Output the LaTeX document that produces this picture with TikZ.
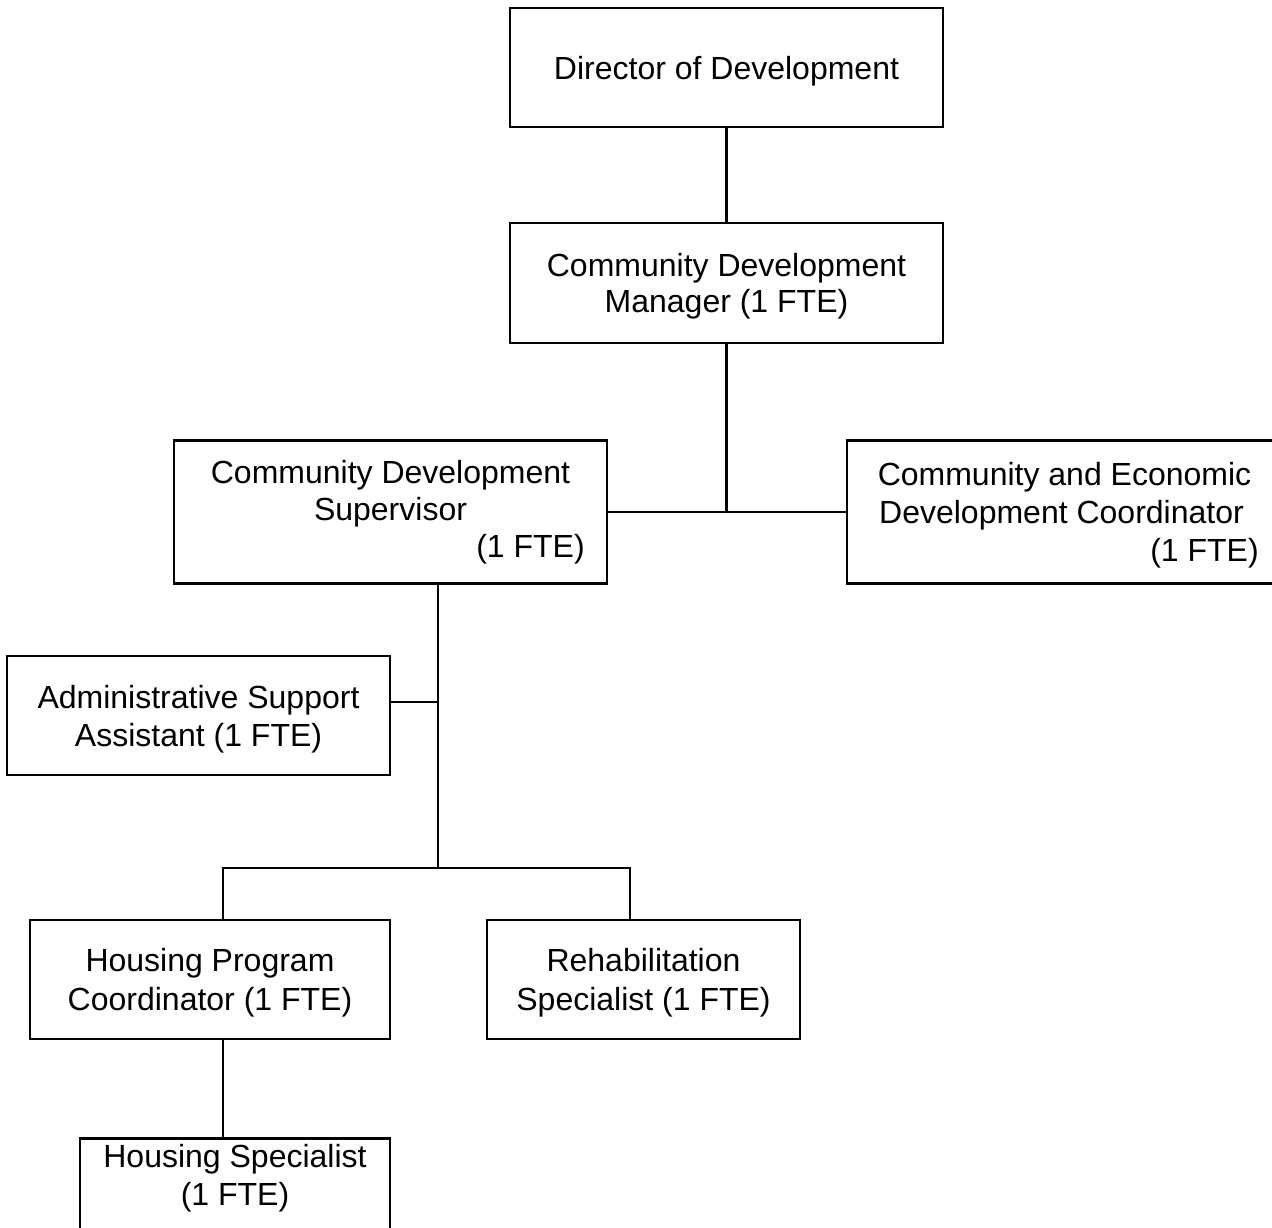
\documentclass[tikz,border=0pt]{standalone}
\usepackage{fontspec}
\setmainfont{Liberation Sans}
\begin{document}
\begin{tikzpicture}[x=0.5pt,y=-0.5pt,
  box/.style={draw=black,line width=1.4pt,rectangle,inner sep=0pt,align=center,
    text depth=0pt,font=\fontsize{16}{18}\selectfont},
  conn/.style={draw=black,line width=1.1pt}]
\useasboundingbox (0,0) rectangle (1272,1227);
\node[box,minimum width=216.5pt,minimum height=59.5pt] (dir) at (726.5,67.5) {Director of Development};
\node[box,minimum width=216.5pt,minimum height=60pt] (mgr) at (726.5,283) {Community Development\\Manager (1 FTE)};
\node[box,text depth=,minimum width=216.5pt,minimum height=71.5pt,font=\fontsize{16}{18.5}\selectfont] (sup) at (390.5,512) {Community Development\\Supervisor\\\hspace*{140pt}(1 FTE)};
\node[box,minimum width=214.5pt,minimum height=71.5pt,font=\fontsize{16}{19}\selectfont] (ced) at (1061.5,512) {\hspace*{3pt}Community and Economic\\Development Coordinator\hspace*{10pt}\\\hspace*{143pt}(1 FTE)};
\node[box,minimum width=191.5pt,minimum height=59.5pt,font=\fontsize{16}{19}\selectfont] (adm) at (198.5,715.5) {Administrative Support\\Assistant (1 FTE)};
\node[box,minimum width=180pt,minimum height=59.5pt,font=\fontsize{16}{19.5}\selectfont] (hpc) at (210,979.5) {Housing Program\\Coordinator (1 FTE)};
\node[box,minimum width=156.5pt,minimum height=59.5pt,font=\fontsize{16}{19.5}\selectfont] (reh) at (643.5,979.5) {Rehabilitation\\Specialist (1 FTE)};
\node[box,minimum width=155pt,minimum height=59.5pt,anchor=north,text depth=23pt,font=\fontsize{16}{19}\selectfont] (hs) at (235,1137) {Housing Specialist\\(1 FTE)};
\coordinate (mj) at (726.5,512);
\coordinate (admj) at (438,702);
\coordinate (bar) at (438,868);
\coordinate (hpcj) at (223,868);
\coordinate (rehj) at (630,868);
\draw[conn] (dir.south) -- (mgr.north);
\draw[conn] (mgr.south) -- (mj);
\draw[conn] (sup.east) -- (ced.west);
\draw[conn] (bar |- sup.south) -- (bar);
\draw[conn] (adm.east |- admj) -- (admj);
\draw[conn] (hpcj |- hpc.north) -- (hpcj) -- (rehj) -- (rehj |- reh.north);
\draw[conn] (hpcj |- hpc.south) -- (hpcj |- hs.north);
\end{tikzpicture}
\end{document}
